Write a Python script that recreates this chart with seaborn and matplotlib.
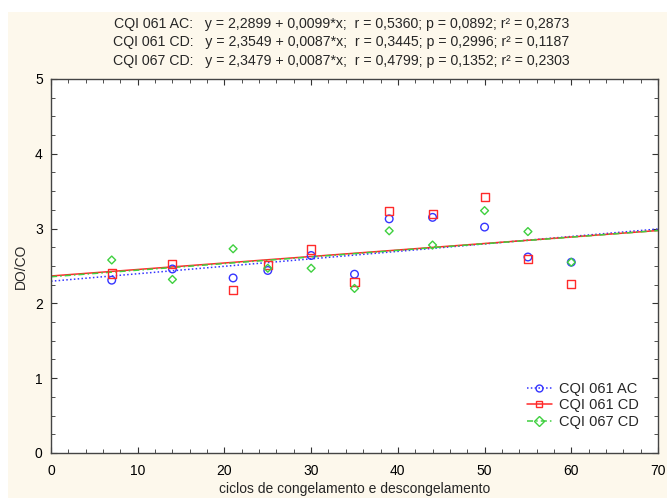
import matplotlib
matplotlib.use("Agg")
import matplotlib.pyplot as plt
from matplotlib.lines import Line2D
from matplotlib.patches import Rectangle
from matplotlib.ticker import MultipleLocator
import seaborn as sns

# valores
ciclos = [7, 14, 21, 25, 30, 35, 39, 44, 50, 55, 60]
cqi_061_ac = [2.31, 2.46, 2.34, 2.44, 2.64, 2.39, 3.13, 3.15, 3.02, 2.62, 2.55]
cqi_061_cd = [2.40, 2.53, 2.18, 2.51, 2.72, 2.29, 3.23, 3.20, 3.42, 2.59, 2.26]
cqi_067_cd = [2.58, 2.32, 2.73, 2.47, 2.47, 2.20, 2.97, 2.78, 3.24, 2.96, 2.55]

series = ["CQI 061 AC", "CQI 061 CD", "CQI 067 CD"]
equacoes = [
    "CQI 061 AC:   y = 2,2899 + 0,0099*x;  r = 0,5360; p = 0,0892; r² = 0,2873",
    "CQI 061 CD:   y = 2,3549 + 0,0087*x;  r = 0,3445; p = 0,2996; r² = 0,1187",
    "CQI 067 CD:   y = 2,3479 + 0,0087*x;  r = 0,4799; p = 0,1352; r² = 0,2303",
]

sns.set_style("ticks")
plt.rcParams["font.family"] = ["Liberation Sans", "DejaVu Sans"]

cores = ["#3535ff", "#ff2a2a", "#3fd03f"]
marcadores = ["o", "s", "D"]
tamanhos = [30, 34, 16]
estilos = [(0, (1, 1.5)), "-", (0, (4, 2, 1, 2))]

fig = plt.figure(figsize=(6.67, 4.98), dpi=100, facecolor="white")
# fundo creme (com faixa branca no topo e à esquerda)
fig.patches.append(Rectangle((8 / 667, 0), 1, 1 - 12 / 498, transform=fig.transFigure,
                             facecolor="#fdf8ec", edgecolor="none", zorder=-10))

ax = fig.add_axes([0.0765, 0.0904, 0.91, 0.751])
ax.set_facecolor("white")
ax.set_xlim(0, 70)
ax.set_ylim(0, 5)

valores = [cqi_061_ac, cqi_061_cd, cqi_067_cd]
for y, cor, mk, s, ls in zip(valores, cores, marcadores, tamanhos, estilos):
    sns.regplot(x=ciclos, y=y, ax=ax, scatter=False, ci=None, truncate=False,
                line_kws={"color": cor, "linestyle": ls, "linewidth": 1.1})
    sns.scatterplot(x=ciclos, y=y, ax=ax, marker=mk, s=s, facecolors="none",
                    edgecolor=cor, linewidth=1.0, zorder=3)

ax.set_xlim(0, 70)
ax.set_ylim(0, 5)
ax.xaxis.set_major_locator(MultipleLocator(10))
ax.xaxis.set_minor_locator(MultipleLocator(2))
ax.yaxis.set_major_locator(MultipleLocator(1))
ax.yaxis.set_minor_locator(MultipleLocator(0.25))
ax.tick_params(which="both", direction="in", top=True, right=True,
               colors="#333333", labelcolor="black", labelsize=10)
ax.tick_params(axis="x", which="major", pad=8)
ax.tick_params(axis="y", which="major", pad=6)
ax.tick_params(which="major", length=4)
ax.tick_params(which="minor", length=3)
for sp in ax.spines.values():
    sp.set_visible(True)
    sp.set_color("#444444")
    sp.set_linewidth(1)

ax.set_xlabel("ciclos de congelamento e descongelamento", fontsize=10, labelpad=3)
ax.set_ylabel("DO/CO", fontsize=10, labelpad=5)

for i, txt in enumerate(equacoes):
    fig.text(0.512, 1 - (24 + i * 18.3) / 498, txt, ha="center", va="center", fontsize=10.2)

handles = [Line2D([], [], color=c, linestyle=ls, linewidth=1.1, marker=mk,
                  markerfacecolor="none", markeredgecolor=c, markersize=5)
           for c, ls, mk in zip(cores, estilos, marcadores)]
ax.legend(handles, series, loc="lower right", bbox_to_anchor=(0.99, 0.03),
          frameon=False, fontsize=10.5, handlelength=1.7, labelspacing=0.15,
          handletextpad=0.5)

plt.savefig("out.png", dpi=100, facecolor=fig.get_facecolor())
